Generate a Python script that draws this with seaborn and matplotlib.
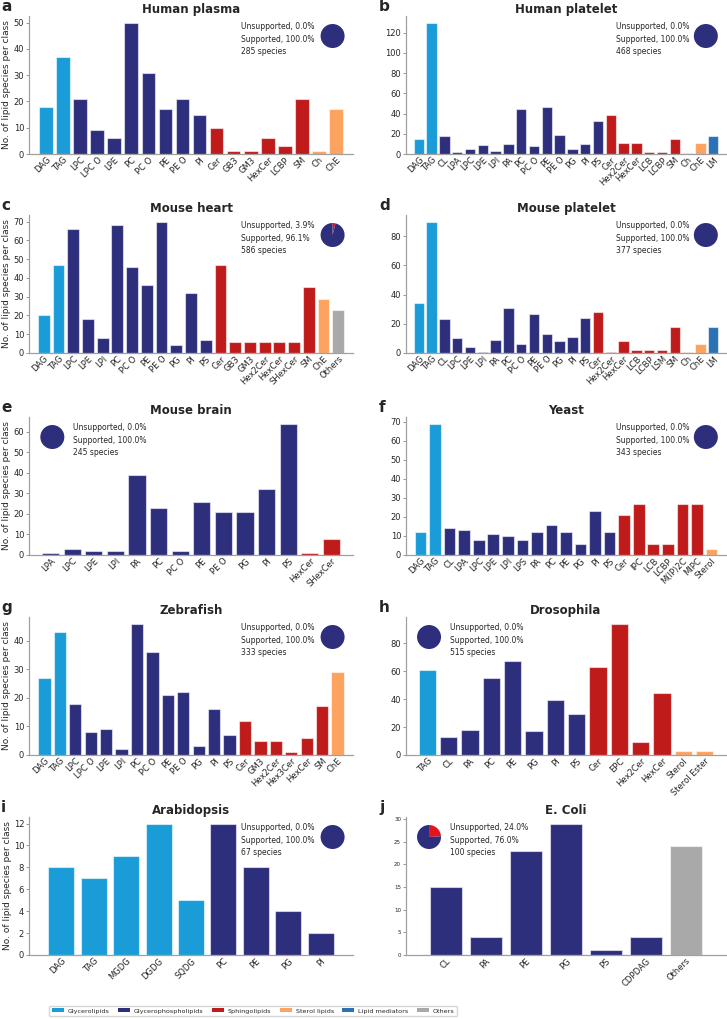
import matplotlib
matplotlib.use("Agg")
import matplotlib.pyplot as plt
from matplotlib.patches import Patch
import pandas as pd
import seaborn as sns

# -- Colours per lipid category -----------------------------------------------
PAL = {
    "Glycerolipids": "#1a9cd8",
    "Glycerophospholipids": "#2d2f7d",
    "Sphingolipids": "#c01b1b",
    "Sterol lipids": "#fca360",
    "Lipid mediators": "#2a72b4",
    "Others": "#a9a9a9",
}
UNSUP_RED = "#e3141b"
GL, GP, SP, ST, LM, OT = list(PAL.keys())

# -- Data ---------------------------------------------------------------------
plasma_cls = ["DAG", "TAG", "LPC", "LPC O", "LPE", "PC", "PC O", "PE", "PE O", "PI",
              "Cer", "GB3", "GM3", "HexCer", "LCBP", "SM", "Ch", "ChE"]
plasma_n = [18, 37, 21, 9, 6, 50, 31, 17, 21, 15, 10, 1, 1, 6, 3, 21, 1, 17]
plasma_grp = [GL] * 2 + [GP] * 8 + [SP] * 6 + [ST] * 2

hplat_cls = ["DAG", "TAG", "CL", "LPA", "LPC", "LPE", "LPI", "PA", "PC", "PC O", "PE",
             "PE O", "PG", "PI", "PS", "Cer", "Hex2Cer", "HexCer", "LCB", "LCBP", "SM",
             "Ch", "ChE", "LM"]
hplat_n = [15, 130, 18, 2, 5, 9, 3, 10, 45, 8, 46, 19, 5, 10, 33, 39, 11, 11, 2, 2, 15,
           1, 11, 18]
hplat_grp = [GL] * 2 + [GP] * 13 + [SP] * 6 + [ST] * 2 + [LM]

heart_cls = ["DAG", "TAG", "LPC", "LPE", "LPI", "PC", "PC O", "PE", "PE O", "PG", "PI",
             "PS", "Cer", "GB3", "GM3", "Hex2Cer", "HexCer", "SHexCer", "SM", "ChE", "Others"]
heart_n = [20, 47, 66, 18, 8, 68, 46, 36, 70, 4, 32, 7, 47, 6, 6, 6, 6, 6, 35, 29, 23]
heart_grp = [GL] * 2 + [GP] * 10 + [SP] * 7 + [ST] + [OT]

mplat_cls = ["DAG", "TAG", "CL", "LPC", "LPE", "LPI", "PA", "PC", "PC O", "PE", "PE O",
             "PG", "PI", "PS", "Cer", "Hex2Cer", "HexCer", "LCB", "LCBP", "LSM", "SM",
             "Ch", "ChE", "LM"]
mplat_n = [34, 90, 23, 10, 4, 1, 9, 31, 6, 27, 13, 8, 11, 24, 28, 1, 8, 2, 2, 2, 18,
           1, 6, 18]
mplat_grp = [GL] * 2 + [GP] * 12 + [SP] * 7 + [ST] * 2 + [LM]

brain_cls = ["LPA", "LPC", "LPE", "LPI", "PA", "PC", "PC O", "PE", "PE O", "PG", "PI",
             "PS", "HexCer", "SHexCer"]
brain_n = [1, 3, 2, 2, 39, 23, 2, 26, 21, 21, 32, 64, 1, 8]
brain_grp = [GP] * 12 + [SP] * 2

yeast_cls = ["DAG", "TAG", "CL", "LPA", "LPC", "LPE", "LPI", "LPS", "PA", "PC", "PE",
             "PG", "PI", "PS", "Cer", "IPC", "LCB", "LCBP", "M(IP)2C", "MIPC", "Sterol"]
yeast_n = [12, 69, 14, 13, 8, 11, 10, 8, 12, 16, 12, 6, 23, 12, 21, 27, 6, 6, 27, 27, 3]
yeast_grp = [GL] * 2 + [GP] * 12 + [SP] * 6 + [ST]

zfish_cls = ["DAG", "TAG", "LPC", "LPC O", "LPE", "LPI", "PC", "PC O", "PE", "PE O", "PG",
             "PI", "PS", "Cer", "GM3", "Hex2Cer", "Hex3Cer", "HexCer", "SM", "ChE"]
zfish_n = [27, 43, 18, 8, 9, 2, 46, 36, 21, 22, 3, 16, 7, 12, 5, 5, 1, 6, 17, 29]
zfish_grp = [GL] * 2 + [GP] * 11 + [SP] * 6 + [ST]

dros_cls = ["TAG", "CL", "PA", "PC", "PE", "PG", "PI", "PS", "Cer", "EPC", "Hex2Cer",
            "HexCer", "Sterol", "Sterol Ester"]
dros_n = [61, 13, 18, 55, 67, 17, 39, 29, 63, 94, 9, 44, 3, 3]
dros_grp = [GL] + [GP] * 7 + [SP] * 4 + [ST] * 2

arab_cls = ["DAG", "TAG", "MGDG", "DGDG", "SQDG", "PC", "PE", "PG", "PI"]
arab_n = [8, 7, 9, 12, 5, 12, 8, 4, 2]
arab_grp = [GL] * 5 + [GP] * 4

ecoli_cls = ["CL", "PA", "PE", "PG", "PS", "CDPDAG", "Others"]
ecoli_n = [15, 4, 23, 29, 1, 4, 24]
ecoli_grp = [GP] * 6 + [OT]

titles = ["Human plasma", "Human platelet", "Mouse heart", "Mouse platelet",
          "Mouse brain", "Yeast", "Zebrafish", "Drosophila", "Arabidopsis", "E. Coli"]
unsupported_pct = [0.0, 0.0, 3.9, 0.0, 0.0, 0.0, 0.0, 0.0, 0.0, 24.0]
n_species = [285, 468, 586, 377, 245, 343, 333, 515, 67, 100]
letters = list("abcdefghij")

panels = [
    (plasma_cls, plasma_n, plasma_grp), (hplat_cls, hplat_n, hplat_grp),
    (heart_cls, heart_n, heart_grp), (mplat_cls, mplat_n, mplat_grp),
    (brain_cls, brain_n, brain_grp), (yeast_cls, yeast_n, yeast_grp),
    (zfish_cls, zfish_n, zfish_grp), (dros_cls, dros_n, dros_grp),
    (arab_cls, arab_n, arab_grp), (ecoli_cls, ecoli_n, ecoli_grp),
]
pie_left = {"Mouse brain", "Drosophila", "E. Coli"}

# -- Layout (pixels) ----------------------------------------------------------
sns.set_style("ticks")
plt.rcParams["font.family"] = ["DejaVu Sans"]
W, H = 727, 1019
ROW_TOP = [16, 215, 417, 617, 817]
COLS = [(29, 324), (406, 320)]
AX_H = 138
PIE_D = 30

fig = plt.figure(figsize=(W / 100, H / 100), dpi=100)

for k, (cls, n, grp) in enumerate(panels):
    row, col = divmod(k, 2)
    x0, aw = COLS[col]
    top = ROW_TOP[row]
    ax = fig.add_axes([x0 / W, 1 - (top + AX_H) / H, aw / W, AX_H / H])

    df = pd.DataFrame({"cls": cls, "n": n, "grp": grp})
    sns.barplot(data=df, x="cls", y="n", hue="grp", palette=PAL, order=cls,
                dodge=False, legend=False, saturation=1, width=0.8,
                edgecolor=(1, 1, 1, 0.55), linewidth=0.8, ax=ax)
    ax.set_xlim(-1, len(cls))
    ax.set_title(titles[k], fontsize=8.5, fontweight="bold", pad=2)
    ax.set_xlabel("")
    ax.set_ylabel("No. of lipid species per class" if col == 0 else "",
                  fontsize=6.5, labelpad=1.5)
    ax.tick_params(axis="x", labelsize=6, length=0, pad=1)
    ax.tick_params(axis="y", labelsize=4 if k == 9 else 6, length=2, width=0.6,
                   color="#888888", pad=1.5)
    for lab in ax.get_xticklabels():
        lab.set_rotation(45)
        lab.set_ha("right")
        lab.set_rotation_mode("anchor")
    sns.despine(ax=ax)
    for side in ("left", "bottom"):
        ax.spines[side].set_color("#a0a0a0")
        ax.spines[side].set_linewidth(0.9)

    # pie of supported vs unsupported species
    left = titles[k] in pie_left
    cx = 0.072 if left else 0.937
    pw, ph = PIE_D / aw, PIE_D / AX_H
    pax = ax.inset_axes([cx - pw / 2, 0.855 - ph / 2, pw, ph])
    u = unsupported_pct[k]
    pax.pie([u, 100 - u], colors=[UNSUP_RED, PAL[GP]], startangle=90,
            counterclock=False, wedgeprops={"linewidth": 0})
    pax.set_aspect("equal")
    pax.axis("off")
    tx = 0.137 if left else 0.655
    ax.text(tx, 0.955,
            f"Unsupported, {u:.1f}%\nSupported, {100 - u:.1f}%\n{n_species[k]} species",
            transform=ax.transAxes, ha="left", va="top", fontsize=5.5, linespacing=1.5)

    lx = 1 if col == 0 else 379
    fig.text(lx / W, 1 - (top - 17) / H, letters[k], fontsize=11, fontweight="bold",
             va="top", ha="left")

# -- Legend -------------------------------------------------------------------
handles = [Patch(facecolor=c, edgecolor="none") for c in PAL.values()]
fig.legend(handles, list(PAL.keys()), loc="center", ncol=6,
           bbox_to_anchor=(253 / W, 1 - 1011 / H), fontsize=4.6, frameon=True,
           handlelength=1.9, handleheight=0.5, columnspacing=1.3, handletextpad=0.6,
           edgecolor="#cccccc", borderpad=0.45)

fig.savefig("out.png", dpi=100)
